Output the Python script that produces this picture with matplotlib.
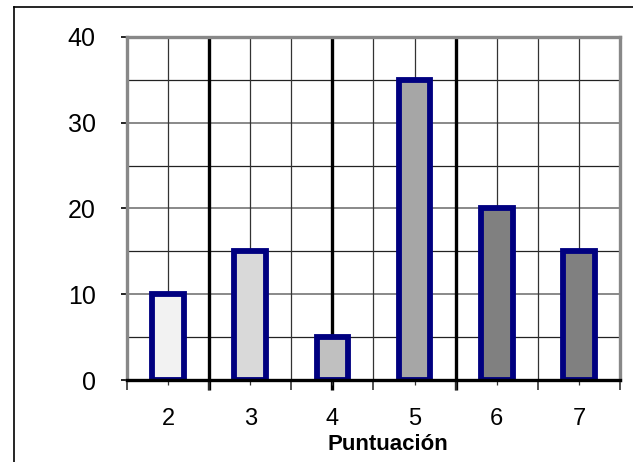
import matplotlib
matplotlib.use("Agg")
import matplotlib.pyplot as plt
from matplotlib.lines import Line2D

categories = [2, 3, 4, 5, 6, 7]
values = [10, 15, 5, 35, 20, 15]
fills = ["#F2F2F2", "#D9D9D9", "#C0C0C0", "#A6A6A6", "#808080", "#808080"]
y_ticks = [0, 10, 20, 30, 40]
x_label = "Puntuación"

plt.rcParams['font.family'] = ['Liberation Sans', 'DejaVu Sans']

fig = plt.figure(figsize=(6.33, 4.62), dpi=100)
ax = fig.add_axes([127/633, 1-380/462, (620-127)/633, (380-37)/462])

ax.set_xlim(categories[0]-0.5, categories[-1]+0.5)
ax.set_ylim(0, 40)

# horizontal grid
for y in range(5, 40, 5):
    if y % 10 == 0:
        ax.axhline(y, color="#808080", lw=1.3, zorder=1)
    else:
        ax.axhline(y, color="#222222", lw=0.9, zorder=1)

# vertical grid at centers and boundaries
thick = {2.5, 4.0, 5.5}
x = categories[0]
while x <= categories[-1] + 1e-9:
    if round(x, 1) in thick:
        ax.plot([x, x], [40, -1.2], color="black", lw=2.4, zorder=1, clip_on=False, solid_capstyle="butt")
    else:
        ax.axvline(x, color="#333333", lw=0.9, zorder=1)
    x += 0.5

ax.bar(categories, values, width=0.385, color=fills, edgecolor="#000080", linewidth=4.2, zorder=3)

for s in ["left", "top", "right"]:
    ax.spines[s].set_color("#888888")
    ax.spines[s].set_linewidth(2.4)
    ax.spines[s].set_zorder(4)
ax.spines["bottom"].set_color("black")
ax.spines["bottom"].set_linewidth(2.4)
ax.spines["bottom"].set_zorder(5)

ax.set_yticks(y_ticks)
ax.set_yticklabels([str(v) for v in y_ticks], fontsize=18)
ax.tick_params(axis="y", direction="out", length=4.5, width=1.2, color="black", pad=18)

ax.set_xticks(categories)
ax.set_xticklabels([str(c) for c in categories], fontsize=17)
ax.set_xticks([c + 0.5 for c in [categories[0]-1] + categories], minor=True)
ax.tick_params(axis="x", which="major", direction="inout", length=7, width=0.9, color="#333333", pad=17)
ax.tick_params(axis="x", which="minor", direction="out", length=7, width=1.2, color="#333333")

ax.set_xlabel(x_label, fontsize=16, fontweight="bold")
ax.xaxis.set_label_coords((388-127)/493, -(445-380)/343)
ax.xaxis.label.set_va("center")

# figure frame (left and top lines)
fig.add_artist(Line2D([14/633, 14/633], [0, 1-7/462], color="black", lw=1.2, transform=fig.transFigure))
fig.add_artist(Line2D([14/633, 1], [1-7/462, 1-7/462], color="black", lw=1.2, transform=fig.transFigure))

fig.savefig("out.png", dpi=100)
